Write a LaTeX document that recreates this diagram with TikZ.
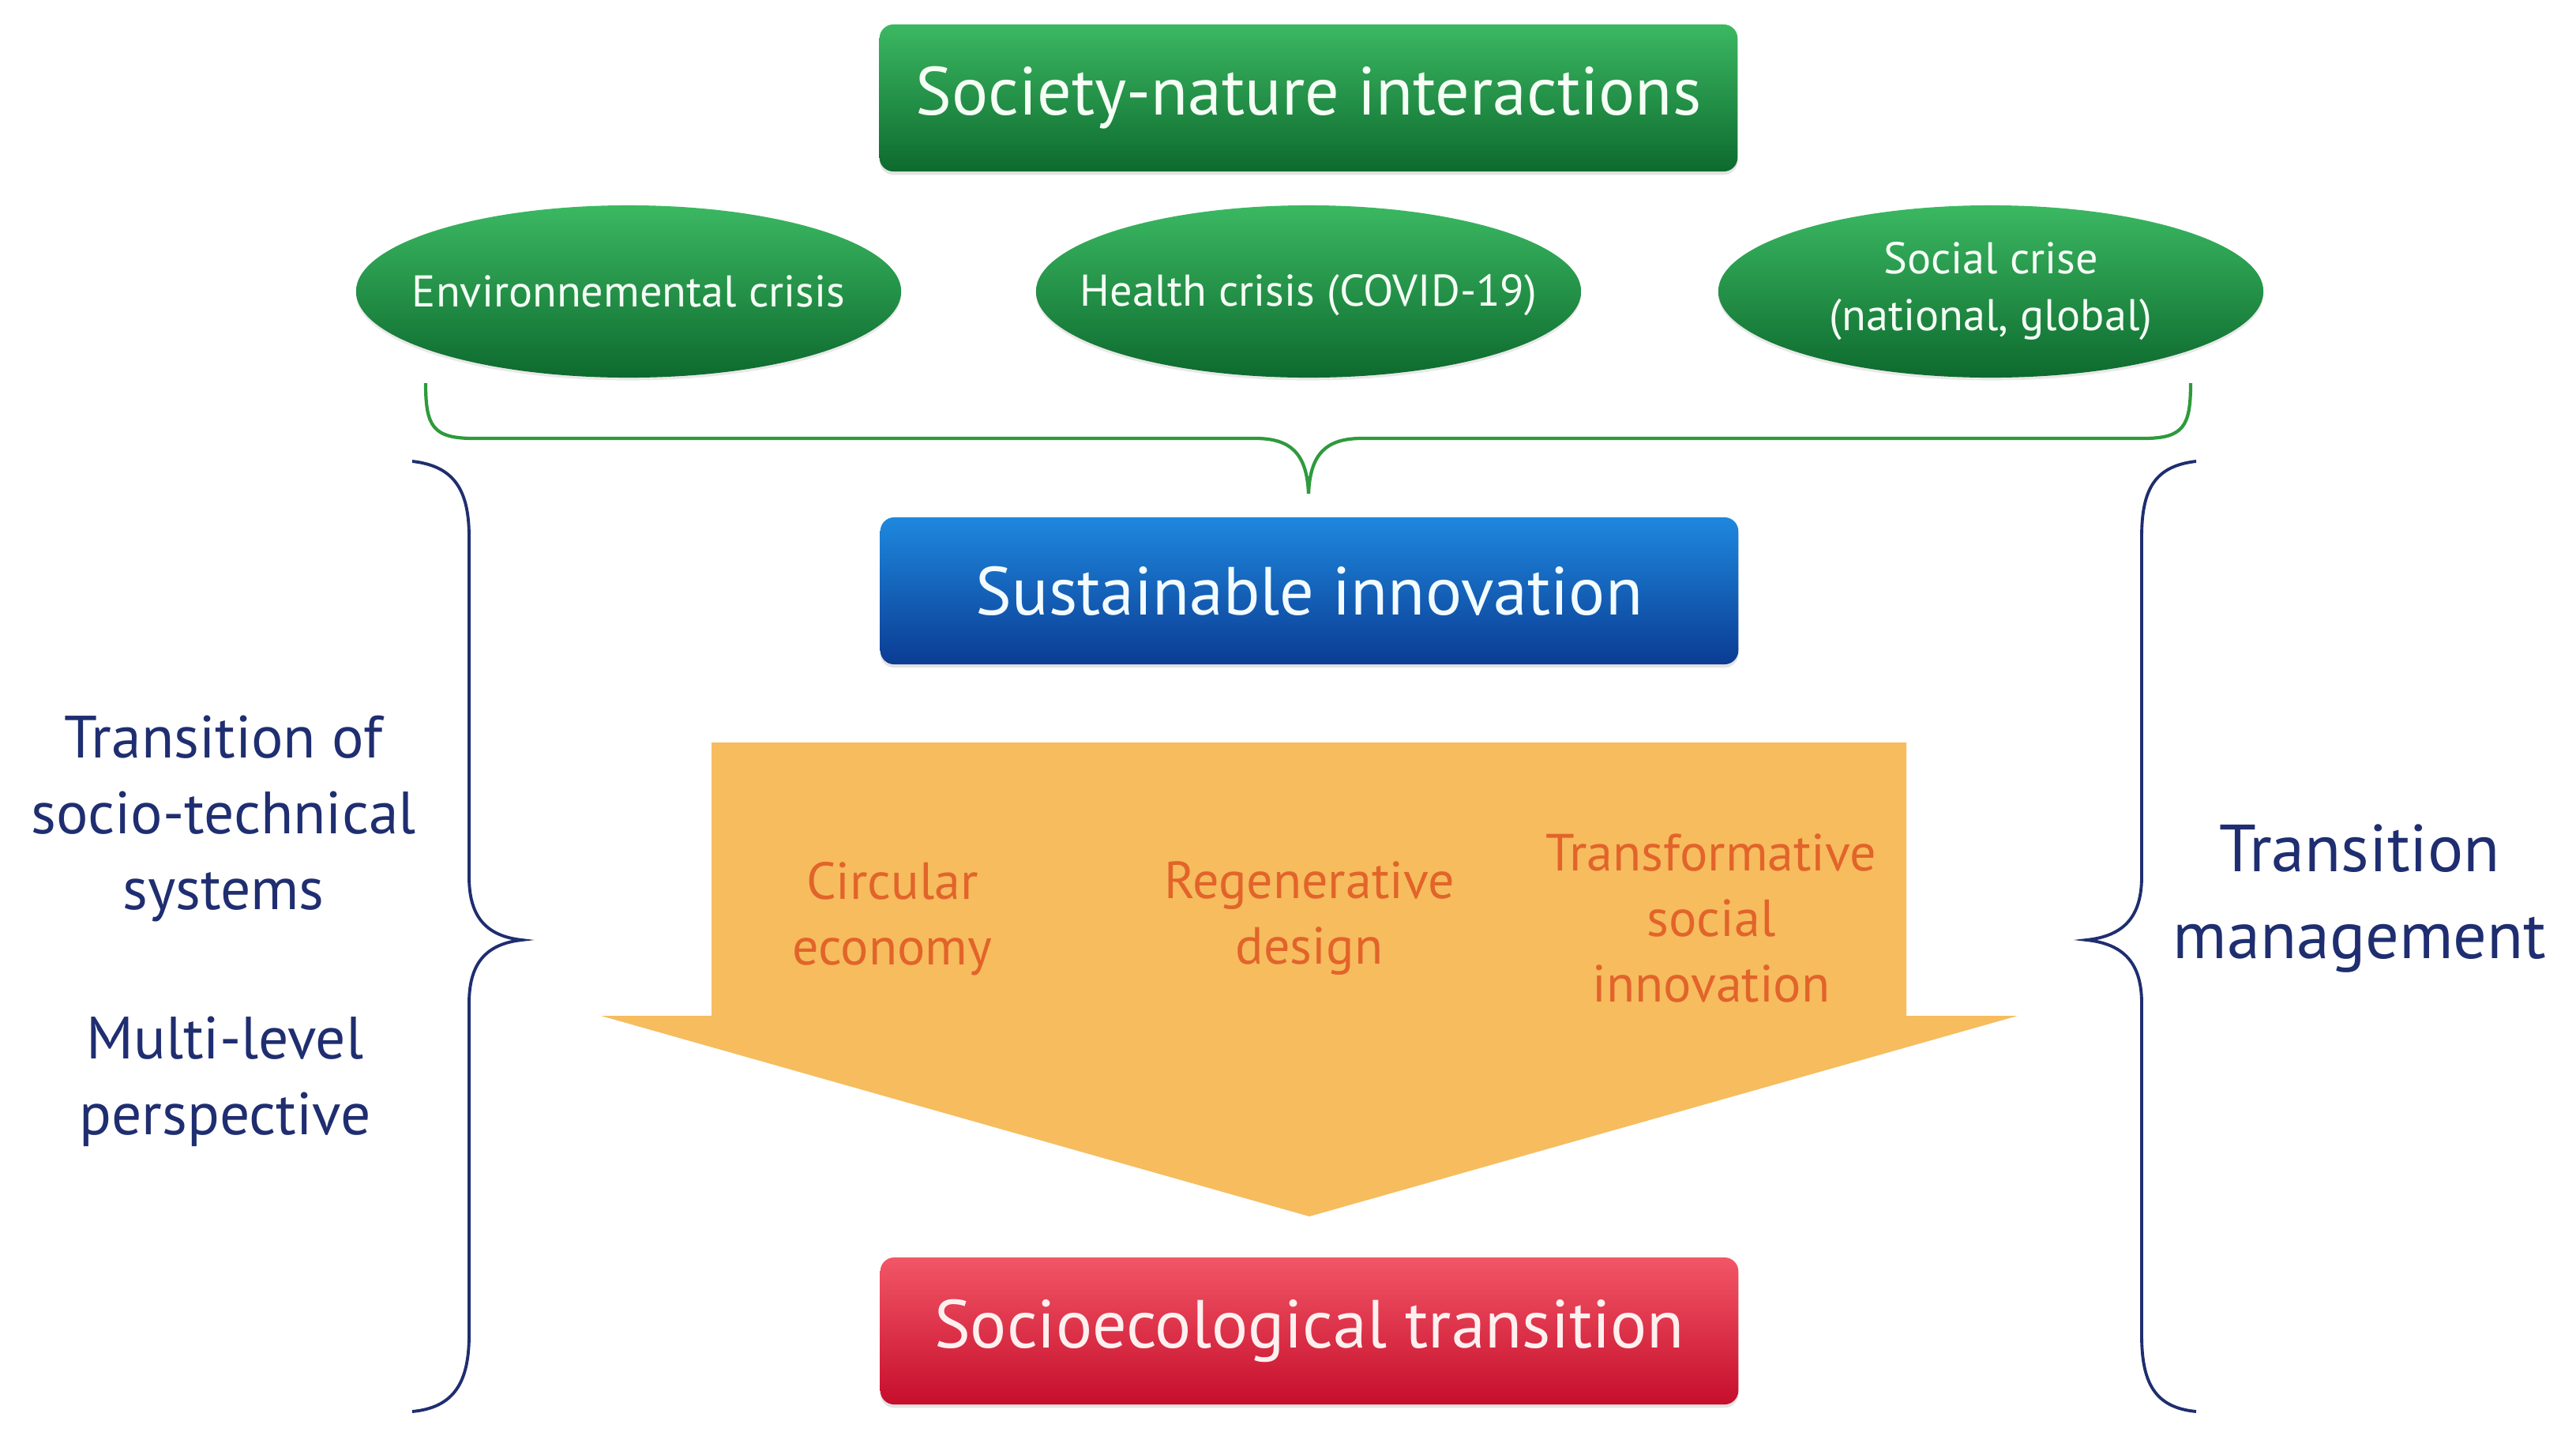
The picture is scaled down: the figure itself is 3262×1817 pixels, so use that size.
\documentclass[tikz,border=0pt]{standalone}
\usepackage{fontspec}
\setmainfont{PT Sans}
\usetikzlibrary{shapes.geometric,shadows}
\definecolor{gTop}{HTML}{3BB862}
\definecolor{gBot}{HTML}{0D6A2E}
\definecolor{bTop}{HTML}{1E88DE}
\definecolor{bBot}{HTML}{0B3C94}
\definecolor{rTop}{HTML}{F25666}
\definecolor{rBot}{HTML}{C60E2C}
\definecolor{arrowFill}{HTML}{F6BC5E}
\definecolor{arrowText}{HTML}{E2642A}
\definecolor{navy}{HTML}{1F2E70}
\definecolor{braceGreen}{HTML}{2E9A3C}
\begin{document}
\begin{tikzpicture}[x=0.01cm,y=-0.01cm,
  titlebox/.style={rounded corners=5pt, minimum width=10.86cm, minimum height=1.86cm,
    inner sep=0pt, font=\fontsize{24.5}{29}\selectfont,
    drop shadow={opacity=0.22, shadow xshift=0pt, shadow yshift=-1.2pt}},
  greenbox/.style={titlebox, top color=gTop, bottom color=gBot, text=green!4!white},
  bluebox/.style={titlebox, top color=bTop, bottom color=bBot, text=cyan!5!white},
  redbox/.style={titlebox, top color=rTop, bottom color=rBot, text=red!6!white},
  crisis/.style={ellipse, minimum width=6.9cm, minimum height=2.18cm, inner sep=0pt,
    top color=gTop, bottom color=gBot,
    drop shadow={opacity=0.18, shadow xshift=0pt, shadow yshift=-1pt}},
  crisistext/.style={text=green!4!white, align=center, inner sep=0pt,
    font=\fontsize{16}{20.5}\selectfont},
  pathlabel/.style={text=arrowText, align=center, font=\fontsize{18.8}{23.6}\selectfont},
  sidelabel/.style={text=navy, align=center, font=\fontsize{21.5}{27.3}\selectfont},
  navybrace/.style={draw=navy, line width=1.1pt},
  greenbrace/.style={draw=braceGreen, line width=1.2pt}
]
\useasboundingbox (0,0) rectangle (3262,1817);

% top box
\node[greenbox] (sni) at (1657,124) {Society-nature interactions};

% crises
\node[crisis] (env) at (796,369) {};
\node[crisistext] (envt) at (env.center) {Environnemental crisis};
\node[crisis] (health) at (1657,369) {};
\node[crisistext] (healtht) at ([yshift=-1.2pt]health.center) {Health crisis (COVID-19)};
\node[crisis] (social) at (2521,369) {};
\node[crisistext] (socialt) at (social.center) {Social crise\\(national, global)};

% green brace
\coordinate (gbL) at (539,485);
\coordinate (gbR) at (2774,485);
\coordinate (gbTip) at (1657,625);
\draw[greenbrace] (gbL) .. controls (539,540) and (548,555) .. (600,555)
  -- (1590,555) .. controls (1635,555) and (1655,575) .. (gbTip);
\draw[greenbrace] (gbR) .. controls (2774,540) and (2765,555) .. (2714,555)
  -- (1724,555) .. controls (1679,555) and (1659,575) .. (gbTip);

% sustainable innovation
\node[bluebox] (si) at (1658,748) {Sustainable innovation};

% big arrow
\fill[arrowFill] (901,940) -- (2414,940) -- (2414,1286) -- (2555,1286)
  -- (1658,1540) -- (761,1286) -- (901,1286) -- cycle;
\node[pathlabel] (ce) at (1130,1163) {Circular\\economy};
\node[pathlabel] (rd) at (1658,1163) {Regenerative\\design};
\node[pathlabel] (tsi) at (2167,1162) {Transformative\\social\\innovation};

% socioecological transition
\node[redbox] (set) at (1658,1685) {Socioecological transition};

% left brace
\coordinate (lbTop) at (522,584);
\coordinate (lbTip) at (661,1190);
\coordinate (lbBot) at (522,1787);
\draw[navybrace] (lbTop) .. controls (575,590) and (594,620) .. (594,680)
  -- (594,1110) .. controls (594,1160) and (615,1185) .. (lbTip)
  .. controls (615,1195) and (594,1220) .. (594,1270)
  -- (594,1690) .. controls (594,1750) and (575,1782) .. (lbBot);

% right brace
\coordinate (rbTop) at (2781,584);
\coordinate (rbTip) at (2642,1190);
\coordinate (rbBot) at (2781,1787);
\draw[navybrace] (rbTop) .. controls (2728,590) and (2712,620) .. (2712,680)
  -- (2712,1110) .. controls (2712,1160) and (2690,1185) .. (rbTip)
  .. controls (2690,1195) and (2712,1220) .. (2712,1270)
  -- (2712,1690) .. controls (2712,1750) and (2728,1782) .. (rbBot);

% side labels
\node[sidelabel] (tst) at (283,1036) {Transition of\\socio-technical\\systems};
\node[sidelabel] (mlp) at (285,1369) {Multi-level\\perspective};
\node[sidelabel, font=\fontsize{24}{31.3}\selectfont] (tm) at (2988,1138) {Transition\\management};
\end{tikzpicture}
\end{document}
